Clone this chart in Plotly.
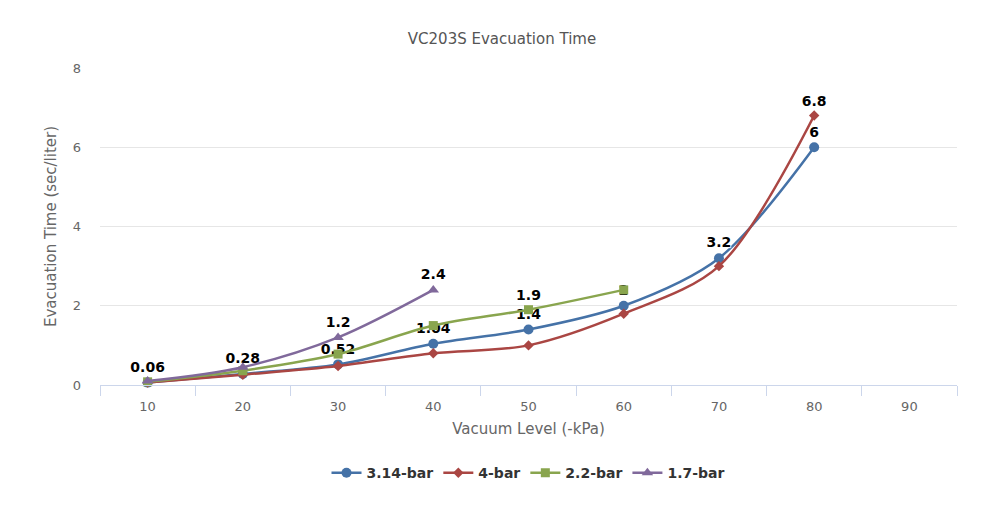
import plotly.graph_objects as go

categories = ["10", "20", "30", "40", "50", "60", "70", "80", "90"]

series_names = ["3.14-bar", "4-bar", "2.2-bar", "1.7-bar"]
bar_314 = [0.06, 0.28, 0.52, 1.04, 1.4, 2, 3.2, 6]
bar_4 = [0.06, 0.26, 0.48, 0.8, 1.0, 1.8, 3.0, 6.8]
bar_22 = [0.08, 0.36, 0.78, 1.5, 1.9, 2.4]
bar_17 = [0.1, 0.45, 1.2, 2.4]

# which point labels are visible in the reference (others hidden by overlap)
labels_314 = [True] * 8
labels_4 = [False, False, False, False, False, False, False, True]
labels_22 = [False, False, False, False, True, False]
labels_17 = [False, False, True, True]

colors = ["#4572A7", "#AA4643", "#89A54E", "#80699B"]
symbols = ["circle", "diamond", "square", "triangle-up"]
sizes = [10, 8, 9, 10]

FONT = "DejaVu Sans"

fig = go.Figure()
for name, vals, show, col, sym, sz in zip(
    series_names,
    [bar_314, bar_4, bar_22, bar_17],
    [labels_314, labels_4, labels_22, labels_17],
    colors, symbols, sizes,
):
    texts = [(f"{v:g}" if s else "") for v, s in zip(vals, show)]
    fig.add_trace(go.Scatter(
        x=categories[:len(vals)],
        y=vals,
        name=name,
        mode="lines+markers+text",
        line=dict(color=col, width=2.5, shape="spline", smoothing=0.9),
        marker=dict(color=col, symbol=sym, size=sz),
        text=texts,
        textposition="top center",
        textfont=dict(family=FONT, size=14, color="#000000", weight="bold",
                      shadow="1px 1px 1px #fff, -1px -1px 1px #fff, 1px -1px 1px #fff, -1px 1px 1px #fff"),
        cliponaxis=False,
    ))

fig.update_layout(
    width=1004,
    height=521,
    margin=dict(l=100, r=47, t=68, b=136),
    paper_bgcolor="white",
    plot_bgcolor="white",
    title=dict(text="VC203S Evacuation Time", x=0.5, xanchor="center",
               y=1 - 39 / 521, yanchor="middle",
               font=dict(family=FONT, size=15, color="#555555")),
    showlegend=True,
    legend=dict(orientation="h", x=0.5, xanchor="center", y=-0.278, yanchor="middle",
                font=dict(family=FONT, size=14, color="#333333", weight="bold"),
                itemwidth=30, traceorder="normal"),
    font=dict(family=FONT),
)

fig.update_xaxes(
    type="category",
    categoryorder="array",
    categoryarray=categories,
    range=[-0.5, len(categories) - 0.5],
    tickson="boundaries",
    ticks="outside",
    ticklen=10,
    tickcolor="#ccd6eb",
    showline=True,
    linecolor="#ccd6eb",
    linewidth=1,
    showgrid=False,
    ticklabelstandoff=9,
    tickfont=dict(family=FONT, size=13, color="#666666"),
    title=dict(text="Vacuum Level (-kPa)", standoff=10,
               font=dict(family=FONT, size=15, color="#666666")),
    fixedrange=True,
)
fig.update_yaxes(
    range=[0, 8],
    dtick=2,
    showgrid=True,
    gridcolor="#e6e6e6",
    zeroline=False,
    showline=False,
    ticks="",
    ticklabelstandoff=18,
    tickfont=dict(family=FONT, size=13, color="#666666"),
    title=dict(text="Evacuation Time (sec/liter)", standoff=12,
               font=dict(family=FONT, size=15, color="#666666")),
    fixedrange=True,
)

fig.write_html("out.html")
